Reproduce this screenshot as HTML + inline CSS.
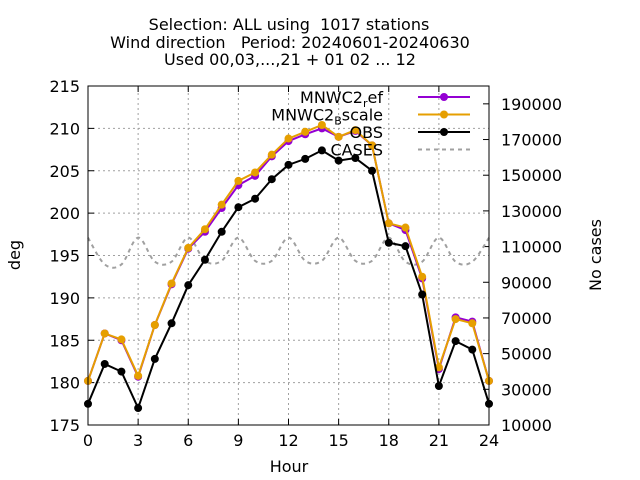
<!DOCTYPE html>
<html><head><meta charset="utf-8"><style>
html,body{margin:0;padding:0;background:#fff;}
svg{display:block;font-family:"DejaVu Sans","Liberation Sans",sans-serif;}
text{white-space:pre;}
</style></head><body>
<svg id="chart" width="640" height="480" xmlns="http://www.w3.org/2000/svg">
<text x="289" y="30" text-anchor="middle" font-size="16">Selection: ALL using  1017 stations</text>
<text x="290" y="48" text-anchor="middle" font-size="16">Wind direction   Period: 20240601-20240630</text>
<text x="290" y="65" text-anchor="middle" font-size="16">Used 00,03,...,21 + 01 02 ... 12</text>
<text x="20" y="255" text-anchor="middle" font-size="16" transform="rotate(-90 20 255)">deg</text>
<text x="601" y="255" text-anchor="middle" font-size="16" transform="rotate(-90 601 255)">No cases</text>
<text x="289" y="472" text-anchor="middle" font-size="16">Hour</text>
<g id="grid"></g><g id="axes"></g><g id="series"></g><g id="legend"></g>
<rect x="88" y="86" width="401" height="339" fill="none" stroke="#000" stroke-width="1"/>
</svg>
<script>
const hours=[0,1,2,3,4,5,6,7,8,9,10,11,12,13,14,15,16,17,18,19,20,21,22,23,24];
const refVals=[180.2,185.8,185.0,180.7,186.8,191.6,195.8,197.8,200.6,203.3,204.4,206.7,208.5,209.3,210.0,209.0,209.7,208.0,198.8,198.0,192.3,181.6,187.7,187.2,180.2];
const bscaleVals=[180.2,185.8,185.1,180.8,186.8,191.7,195.9,198.1,201.0,203.8,204.8,206.9,208.8,209.6,210.4,209.0,209.8,208.0,198.8,198.3,192.5,181.8,187.5,187.0,180.2];
const obsVals=[177.5,182.2,181.3,177.0,182.8,187.0,191.5,194.5,197.8,200.7,201.7,204.0,205.7,206.4,207.4,206.2,206.5,205.0,196.5,196.1,190.4,179.6,184.9,183.9,177.5];
const casesVals=[115000,100000,100000,115000,101500,101500,115000,102000,102000,115000,102000,102000,115000,102000,102000,115000,102000,102000,115000,101500,101500,115000,101500,101500,115000];
const xTicks=[0,3,6,9,12,15,18,21,24];
const yTicks=[175,180,185,190,195,200,205,210,215];
const y2Ticks=[10000,30000,50000,70000,90000,110000,130000,150000,170000,190000];
const NS="http://www.w3.org/2000/svg";
const X0=88,X1=489,Y0=425,Y1=86;
const xs=h=>X0+(h-0)/24*(X1-X0);
const ys=v=>Y0-(v-175)/40*(Y0-Y1);
const ys2=v=>Y0-(v-10000)/190000*(Y0-Y1);
function mk(tag,attrs,parent){const e=document.createElementNS(NS,tag);for(const k in attrs)e.setAttribute(k,attrs[k]);parent.appendChild(e);return e;}
const grid=document.getElementById('grid'),axes=document.getElementById('axes'),ser=document.getElementById('series'),leg=document.getElementById('legend');
xTicks.forEach(t=>{const x=xs(t);
 if(t>0&&t<24){const g=mk('line',{x1:x,x2:x,y1:Y0,y2:Y1,stroke:'#a0a0a0','stroke-dasharray':'2,3'},grid);
 
 }
 mk('line',{x1:x,x2:x,y1:Y0,y2:Y0-6,stroke:'#000'},axes);mk('line',{x1:x,x2:x,y1:Y1,y2:Y1+6,stroke:'#000'},axes);
 const tx=mk('text',{x:x,y:Y0+21,'text-anchor':'middle','font-size':'16'},axes);tx.textContent=t;
 
 });
yTicks.forEach(t=>{const y=ys(t);
 if(t>175&&t<215){const g=mk('line',{x1:X0,x2:X1,y1:y,y2:y,stroke:'#a0a0a0','stroke-dasharray':'2,3'},grid);
 
 }
 mk('line',{x1:X0,x2:X0+6,y1:y,y2:y,stroke:'#000'},axes);
 const tx=mk('text',{x:X0-8,y:y+6,'text-anchor':'end','font-size':'16'},axes);tx.textContent=t;
 
 });
y2Ticks.forEach(t=>{const y=ys2(t);
 mk('line',{x1:X1,x2:X1-6,y1:y,y2:y,stroke:'#000'},axes);
 const tx=mk('text',{x:X1+12,y:y+6,'text-anchor':'start','font-size':'16'},axes);tx.textContent=t;
 
 });
let pts=hours.map((h,i)=>[xs(h),ys2(casesVals[i])]);
let d='M'+pts[0][0]+','+pts[0][1];
for(let i=0;i<pts.length-1;i++){const p0=pts[Math.max(0,i-1)],p1=pts[i],p2=pts[i+1],p3=pts[Math.min(pts.length-1,i+2)];
 d+=` C${p1[0]+(p2[0]-p0[0])/6},${p1[1]+(p2[1]-p0[1])/6} ${p2[0]-(p3[0]-p1[0])/6},${p2[1]-(p3[1]-p1[1])/6} ${p2[0]},${p2[1]}`;}
const cp=mk('path',{d:d,fill:'none',stroke:'#a0a0a0','stroke-width':2,'stroke-dasharray':'4,4'},ser);


function series(vals,color,name){
 const g=mk('g',{},ser);
 
 
 mk('polyline',{points:hours.map((h,i)=>xs(h)+','+ys(vals[i])).join(' '),fill:'none',stroke:color,'stroke-width':2},g);
 hours.forEach((h,i)=>{const c=mk('circle',{cx:xs(h),cy:ys(vals[i]),r:4,fill:color},g);
 
 });
}
series(refVals,'#9400d3','mnwc2-ref-series');
series(bscaleVals,'#e69f00','mnwc2-bscale-series');
series(obsVals,'#000000','obs-series');
const legendItems=[['MNWC2','r','ef','#9400d3',false],['MNWC2','B','scale','#e69f00',false],['OBS','','','#000',false],['CASES','','','#a0a0a0',true]];
legendItems.forEach((it,i)=>{const y=97+i*17.5;
 const g=mk('g',{},leg);
 
 
 const t=mk('text',{x:383,y:y+6,'text-anchor':'end','font-size':'16'},g);
 if(it[1]){t.appendChild(document.createTextNode(it[0]));const s=mk('tspan',{dy:4,'font-size':'11'},t);s.textContent=it[1];const s2=mk('tspan',{dy:-4},t);s2.textContent=it[2];}
 else t.textContent=it[0];
 if(it[4]){mk('line',{x1:418,x2:470,y1:y,y2:y,stroke:it[3],'stroke-width':2,'stroke-dasharray':'4,4'},g);}
 else{mk('line',{x1:418,x2:470,y1:y,y2:y,stroke:it[3],'stroke-width':2},g);mk('circle',{cx:444,cy:y,r:4,fill:it[3]},g);}
});
</script>
</body></html>
